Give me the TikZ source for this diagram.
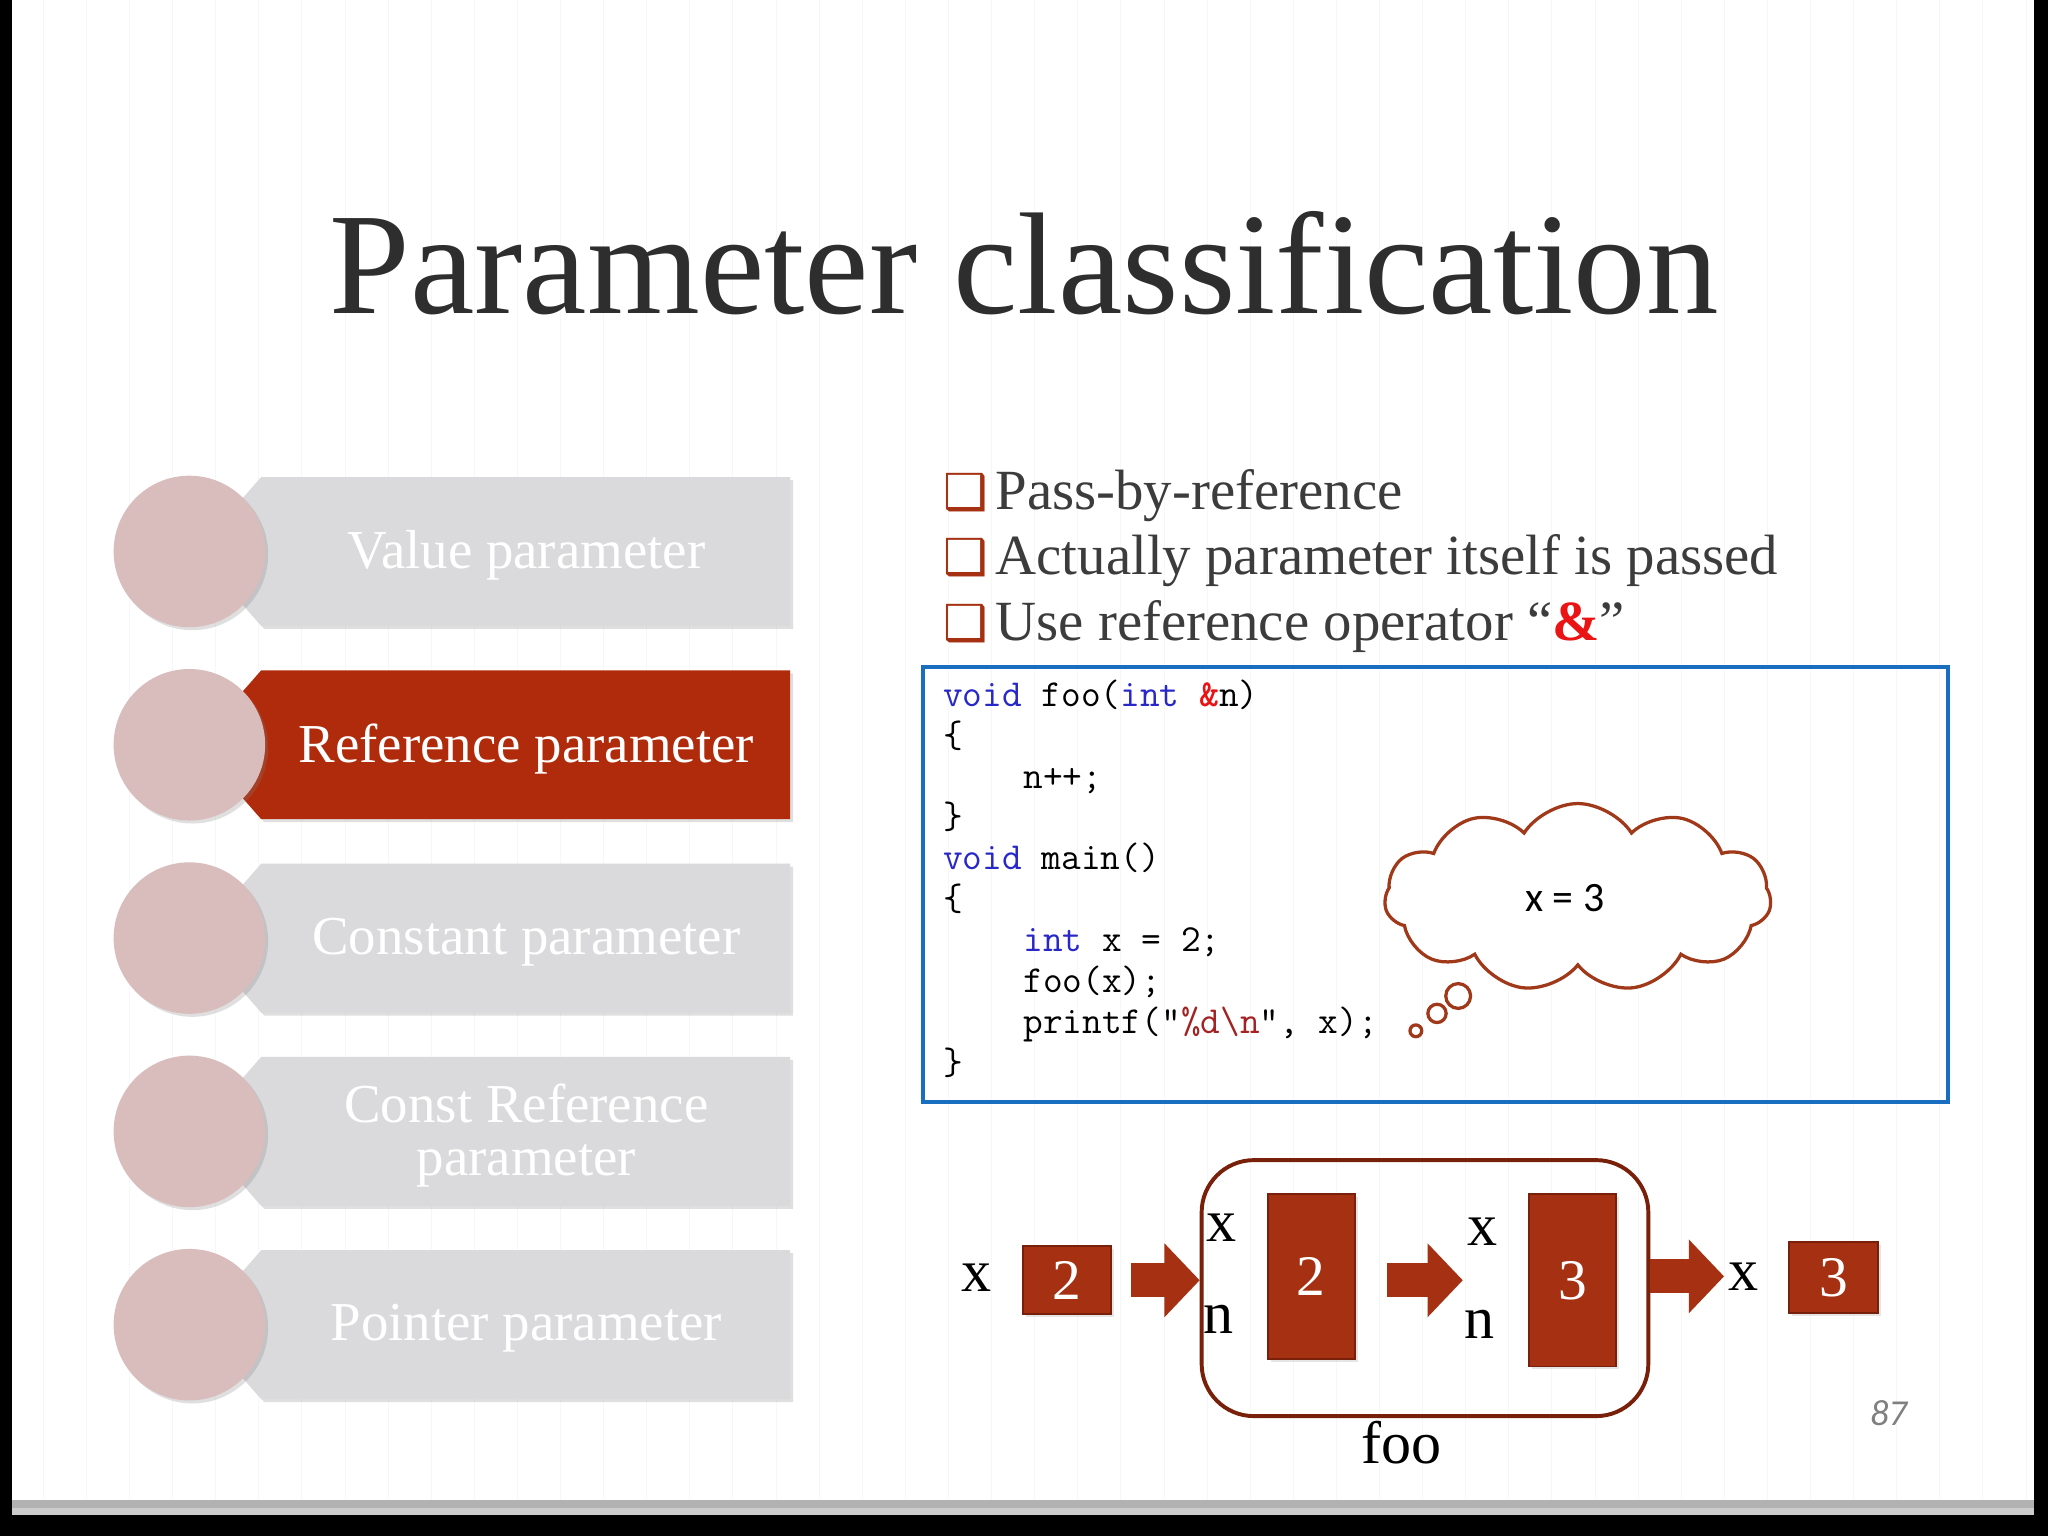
\documentclass[tikz,border=0pt]{standalone}
\usepackage{fontspec}
\setmainfont{Liberation Serif}
\newfontfamily\symfont{DejaVu Sans}
\newfontfamily\calfont{Carlito}
\usetikzlibrary{positioning, calc, arrows.meta, shapes.symbols, shapes.callouts, shadows}

\definecolor{titlegray}{RGB}{46,46,46}
\definecolor{textgray}{RGB}{60,60,60}
\definecolor{beadpink}{RGB}{217,189,189}
\definecolor{tabgray}{RGB}{218,217,219}
\definecolor{tabred}{RGB}{176,43,11}
\definecolor{boxred}{RGB}{165,48,18}
\definecolor{boxedge}{RGB}{120,32,10}
\definecolor{codeblue}{RGB}{26,110,192}
\definecolor{kwblue}{RGB}{40,40,200}
\definecolor{strred}{RGB}{163,35,35}
\definecolor{ampred}{RGB}{235,20,20}
\definecolor{cloudline}{RGB}{160,57,26}

\newcommand{\bul}{{\symfont\fontsize{38}{38}\selectfont\color{boxred}❑}\hspace{6pt}}
\newcommand{\kw}[1]{{\color{kwblue}#1}}
\newcommand{\ind}{\hspace*{2.1em}}

\begin{document}
\begin{tikzpicture}
        [
            x=1pt, y=-1pt,
            bead/.style={circle, fill=beadpink, minimum size=116pt, drop shadow={opacity=.25}},
            tabidle/.style={fill=tabgray, drop shadow={opacity=.25}},
            tabactive/.style={fill=tabred, drop shadow={opacity=.25}},
            tabtext/.style={text=white, align=center, font=\fontsize{42}{41}\selectfont},
            point/.style={text=textgray, anchor=base west, inner sep=0pt, font=\fontsize{43.5}{43.5}\selectfont},
            code/.style={align=left, inner sep=0pt, font=\ttfamily\fontsize{29.26}{31.3}\selectfont\frenchspacing},
            thought/.style={cloud callout, draw=cloudline, line width=2.5pt, fill=white,
                cloud puffs=11, cloud puff arc=115, cloud ignores aspect,
                minimum width=296, minimum height=144,
                callout pointer segments=3,
                callout pointer start size=24pt and 24pt,
                callout pointer end size=9pt and 9pt,
                font=\calfont\fontsize{32}{32}\selectfont},
            lbl/.style={font=\fontsize{46}{46}\selectfont},
            valbox/.style={fill=boxred, draw=boxedge, line width=1.5pt, text=white,
                font=\fontsize{44}{44}\selectfont, drop shadow={opacity=.2}},
            framebox/.style={draw=boxedge, line width=3pt, rounded corners=40pt},
            blockarrow/.style={draw=boxred, line width=26pt, -{Triangle[length=27pt,width=55pt]}},
        ]
        % page
        \fill[black] (0,0) rectangle (1568,1176);
        \fill[white] (9,0) rectangle (1557,1148);
        \draw[black!3, step=33] (9,0) grid (1557,1148);
        \fill[gray!60] (9,1148) rectangle (1557,1154);
        \fill[gray!40] (9,1154) rectangle (1557,1160);

        \node[text=titlegray, anchor=base, font=\fontsize{111}{111}\selectfont] (title) at (784,240) {Parameter classification};

        % left list
        \foreach \i/\lbl/\st in {1/Value parameter/tabidle, 2/Reference parameter/tabactive,
                3/Constant parameter/tabidle, 4/{Const Reference\\parameter}/tabidle, 5/Pointer parameter/tabidle}
        {
            \pgfmathsetmacro\yy{422+148*(\i-1)}
            \fill[\st] (200,\yy-57) -- (605,\yy-57) -- (605,\yy+57) -- (200,\yy+57) -- (150,\yy) -- cycle;
            \node[bead] (bead\i) at (145,\yy) {};
            \node[tabtext] (tab\i) at (403,\yy+3) {\lbl};
        }

        % bullets
        \node[point] (pt1) at (722,390) {\bul Pass-by-reference};
        \node[point] (pt2) at (722,440) {\bul Actually parameter itself is passed};
        \node[point] (pt3) at (722,490) {\bul Use reference operator “{\color{ampred}\bfseries\&}”};

        % code
        \node[draw=codeblue, line width=3pt, minimum width=785, minimum height=333, anchor=north west] (frame) at (705,509) {};
        \node[code, below right=11pt and 17pt of frame.north west] (src) {%
            \kw{void} foo(\kw{int} {\color{ampred}\bfseries\&}n)\\
            \{\\
            \ind n++;\\
            \}\\
            \kw{void} main()\\
            \{\\
            \ind\kw{int} x = 2;\\
            \ind foo(x);\\
            \ind printf("{\color{strred}\%d\textbackslash n}", x);\\
            \}};
        \coordinate (tailtip) at (1084,789);
        \node[thought, callout absolute pointer={(tailtip)}] (bubble) at (1208,687) {\hspace*{-20pt}x = 3};

        % call picture
        \node[framebox, minimum width=342, minimum height=196] (foo) at (1091,986) {};
        \node[lbl] (xin) at (748,978) {x};
        \node[valbox, minimum width=67, minimum height=52] (vin) at (817,980) {2};
        \node[lbl] (xf1) at (935,940) {x};
        \node[lbl] (nf1) at (933,1010) {n};
        \node[valbox, minimum width=67, minimum height=126] (vf1) at (1004,977) {2};
        \node[lbl] (xf2) at (1135,943) {x};
        \node[lbl] (nf2) at (1133,1014) {n};
        \node[valbox, minimum width=67, minimum height=132] (vf2) at (1204,980) {3};
        \node[lbl] (xout) at (1335,977) {x};
        \node[valbox, minimum width=68, minimum height=54] (vout) at (1404,978) {3};
        \node[lbl, anchor=base] (fname) at (1073,1120) {foo};

        \draw[blockarrow] ($(vin.east)+(15,0)$) -- (vin.east -| foo.west);
        \draw[blockarrow] ($(vf1.east |- vf2.west)+(24,0)$) -- (vf2.west -| xf2.west);
        \draw[blockarrow] (foo.east |- xout.west) -- (xout.west);

        \node[text=gray, font=\calfont\itshape\fontsize{28}{28}\selectfont] (pageno) at (1446,1082) {87};
\end{tikzpicture}
\end{document}
